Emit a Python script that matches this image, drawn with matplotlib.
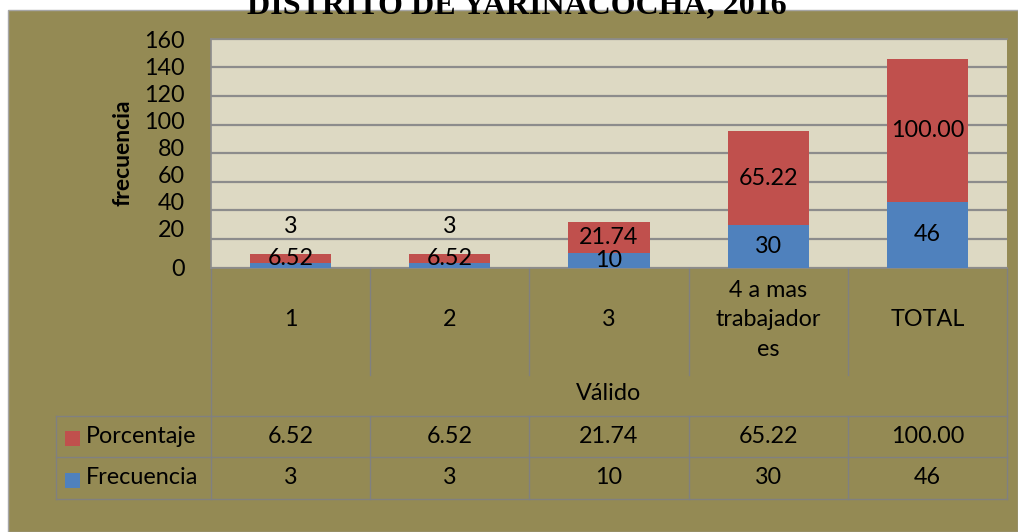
import matplotlib
matplotlib.use("Agg")
import matplotlib.pyplot as plt
from matplotlib.patches import Rectangle
from matplotlib.lines import Line2D
import matplotlib.transforms as mtransforms

# ---- data ----
categories = ["1", "2", "3", "4 a mas\ntrabajador\nes", "TOTAL"]
frecuencia = [3, 3, 10, 30, 46]
porcentaje = [6.52, 6.52, 21.74, 65.22, 100.00]
pct_labels = ["6.52", "6.52", "21.74", "65.22", "100.00"]
freq_labels = ["3", "3", "10", "30", "46"]
yticks = [0, 20, 40, 60, 80, 100, 120, 140, 160]
group_label = "Válido"
series_names = ["Porcentaje", "Frecuencia"]
title = "DISTRITO DE YARINACOCHA, 2016"

# ---- style ----
W, H = 1018, 532
OLIVE = "#948A54"
PLOTBG = "#DDD9C3"
BLUE = "#4F81BD"
RED = "#C0504D"
GRID = "#8C8C8C"
LINE = "#808080"
FONT = ["Lato", "DejaVu Sans"]
FS = 16.8

plt.rcParams["font.family"] = FONT

fig = plt.figure(figsize=(W / 100, H / 100), dpi=100, facecolor="white")

def fx(px):
    return px / W

def fy(py):
    return 1 - py / H

# olive panel
fig.patches.append(Rectangle((fx(8), 0), 1 - fx(8), fy(10), transform=fig.transFigure,
                             facecolor=OLIVE, edgecolor="#A6A6A6", linewidth=1, zorder=-10))

left, right, top, bottom = 211, 1007, 38.7, 267.7
ax = fig.add_axes([fx(left), fy(bottom), fx(right - left), (bottom - top) / H])
ax.set_zorder(1)
ax.set_facecolor(PLOTBG)

x = list(range(len(categories)))
ax.bar(x, frecuencia, width=0.51, color=BLUE, zorder=3)
ax.bar(x, porcentaje, bottom=frecuencia, width=0.51, color=RED, zorder=3)

ax.set_xlim(-0.5, len(categories) - 0.5)
ax.set_ylim(0, 160)
ax.set_yticks(yticks)
ax.set_yticklabels([str(t) for t in yticks], fontsize=FS)
ax.tick_params(axis="y", length=0, pad=19)
ax.set_xticks([])
ax.yaxis.grid(True, color=GRID, linewidth=1.6, zorder=1)
ax.set_axisbelow(True)
for s in ["top", "left", "bottom"]:
    ax.spines[s].set_color(GRID)
    ax.spines[s].set_linewidth(1.2)
ax.spines["right"].set_visible(False)

# Excel-style squeezed tick label placement (labels drift upward from the gridlines)
for v, lab in zip(yticks, ax.get_yticklabels()):
    if v > 0:
        dy_px = 12.8 - 0.088 * v  # upward shift in pixels
        lab.set_transform(lab.get_transform() +
                          mtransforms.ScaledTranslation(0, dy_px / 100, fig.dpi_scale_trans))

ax.set_ylabel("frecuencia", fontsize=16.5, fontweight="bold")
ax.yaxis.set_label_coords(-0.097, 0.50)

# value labels
for i in x:
    f, p = frecuencia[i], porcentaje[i]
    ax.text(i, f + p / 2, pct_labels[i], ha="center", va="center", fontsize=FS, zorder=4)
    fy_lab = f + p + 19 if f < 5 else f / 2
    ax.text(i, fy_lab, freq_labels[i], ha="center", va="center", fontsize=FS, zorder=4)

# ---- category axis / data table below ----
tr = mtransforms.blended_transform_factory(ax.transData, ax.transAxes)
ax_h = bottom - top

def ay(py):
    return (bottom - py) / ax_h

y_cat = ay(320)
y_group = ay(393)
y_row1_top, y_row_mid, y_row2_bot = ay(415.7), ay(457), ay(498.7)
y_cat_bot = ay(374.7)
tbl_left = -0.5 - (left - 56) / ((right - left) / len(categories))

for i, c in enumerate(categories):
    ax.text(i, y_cat, c, transform=tr, ha="center", va="center", fontsize=FS,
            linespacing=1.5, clip_on=False)
ax.text((len(categories) - 1) / 2, y_group, group_label, transform=tr, ha="center",
        va="center", fontsize=FS, clip_on=False)

def vline(xv, y0, y1):
    ax.add_line(Line2D([xv, xv], [y0, y1], transform=tr, color=LINE, linewidth=1,
                       clip_on=False))

def hline(yv, x0, x1):
    ax.add_line(Line2D([x0, x1], [yv, yv], transform=tr, color=LINE, linewidth=1,
                       clip_on=False))

n = len(categories)
vline(-0.5, 0, y_row2_bot)
vline(n - 0.5, 0, y_row2_bot)
for k in range(1, n):
    vline(k - 0.5, 0, y_cat_bot)
    vline(k - 0.5, y_row1_top, y_row2_bot)
vline(tbl_left, y_row1_top, y_row2_bot)
for yv in (y_row1_top, y_row_mid, y_row2_bot):
    hline(yv, tbl_left, n - 0.5)

rows = [(series_names[0], RED, pct_labels), (series_names[1], BLUE, freq_labels)]
row_centers = [(y_row1_top + y_row_mid) / 2, (y_row_mid + y_row2_bot) / 2]
cat_w = (right - left) / n
sq = 15 / cat_w
for (name, col, vals), yc in zip(rows, row_centers):
    sq_x = tbl_left + 9 / cat_w
    sq_h = 15 / ax_h
    ax.add_patch(Rectangle((sq_x, yc - sq_h / 2 - 0.01), sq, sq_h, transform=tr,
                           facecolor=col, edgecolor="none", clip_on=False))
    ax.text(tbl_left + 30 / cat_w, yc, name, transform=tr, ha="left", va="center",
            fontsize=FS, clip_on=False)
    for i, v in enumerate(vals):
        ax.text(i, yc, v, transform=tr, ha="center", va="center", fontsize=FS,
                clip_on=False)

# title (clipped at top as in the reference)
fig.text(fx(517), fy(13), title, ha="center", va="baseline", fontsize=23,
         fontweight="bold", family=["Liberation Serif", "DejaVu Serif"], zorder=5)

fig.savefig("out.png", dpi=100, facecolor="white")
